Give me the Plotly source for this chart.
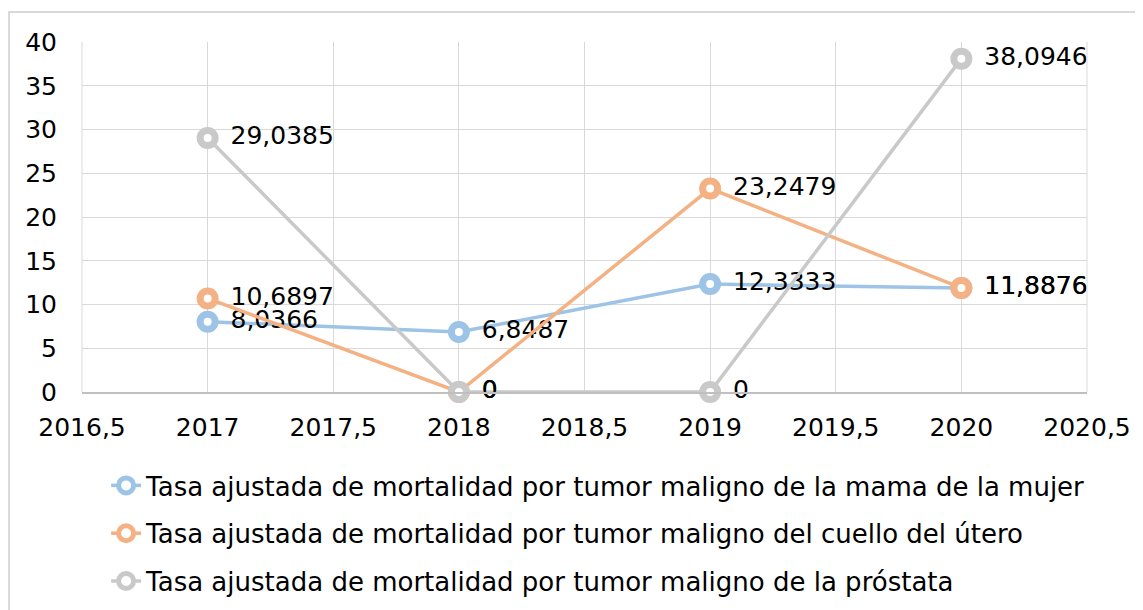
import plotly.graph_objects as go

years = [2017, 2018, 2019, 2020]
mama = [8.0366, 6.8487, 12.3333, 11.8876]
cuello = [10.6897, 0, 23.2479, 11.8876]
prostata = [29.0385, 0, 0, 38.0946]
series_names = [
    "Tasa ajustada de mortalidad por tumor maligno de la mama de la mujer",
    "Tasa ajustada de mortalidad por tumor maligno del cuello del útero",
    "Tasa ajustada de mortalidad por tumor maligno de la próstata",
]
colors = ["#9DC3E6", "#F4B183", "#C9C9C9"]
x_ticks = [2016.5, 2017, 2017.5, 2018, 2018.5, 2019, 2019.5, 2020, 2020.5]
y_ticks = [0, 5, 10, 15, 20, 25, 30, 35, 40]


def fmt(v):
    s = f"{v:.4f}".rstrip("0").rstrip(".")
    return "\u2002" + s.replace(".", ",")


def fmt_tick(v):
    s = f"{v:g}"
    return s.replace(".", ",")


FONT = "DejaVu Sans"
fig = go.Figure()
for i, (name, vals, col) in enumerate(zip(series_names, [mama, cuello, prostata], colors)):
    fig.add_trace(go.Scatter(
        x=years, y=vals, name=name, mode="lines+markers+text",
        text=[fmt(v) for v in vals], textposition="middle right",
        textfont=dict(family=FONT, size=25, color="#000000"),
        line=dict(color=col, width=3.5),
        marker=dict(symbol="circle", size=15, color="white",
                    line=dict(color=col, width=7)),
        legendgroup=f"g{i}", cliponaxis=False,
    ))

fig.update_layout(
    width=1143, height=610,
    margin=dict(l=74, r=64, t=34, b=226, autoexpand=False),
    paper_bgcolor="white", plot_bgcolor="white",
    font=dict(family=FONT, size=25, color="#000000"),
    showlegend=True,
    legend=dict(
        orientation="v", x=0.024, y=-0.20, xanchor="left", yanchor="top",
        traceorder="grouped", tracegroupgap=11,
        font=dict(family=FONT, size=26, color="#000000"),
        itemwidth=30, bgcolor="rgba(0,0,0,0)",
    ),
    xaxis=dict(
        range=[2016.5, 2020.5], tickvals=x_ticks,
        ticktext=[fmt_tick(v) for v in x_ticks],
        showgrid=True, gridcolor="#D9D9D9", gridwidth=1,
        zeroline=False, showline=True, linecolor="#BFBFBF", linewidth=2,
        mirror=False, ticks="", ticklabelstandoff=12,
        tickfont=dict(family=FONT, size=25),
    ),
    yaxis=dict(
        range=[0, 40], tickvals=y_ticks, ticktext=[str(v) for v in y_ticks],
        showgrid=True, gridcolor="#D9D9D9", gridwidth=1,
        zeroline=False, showline=False, ticks="", ticklabelstandoff=24,
        tickfont=dict(family=FONT, size=25),
    ),
    shapes=[
        dict(type="rect", xref="paper", yref="paper",
             x0=-0.0726, x1=1.2, y0=-0.8, y1=1.0857,
             line=dict(color="#D9D9D9", width=2), layer="below"),
        dict(type="line", xref="paper", yref="paper", x0=0, x1=0, y0=0, y1=1,
             line=dict(color="#D9D9D9", width=1)),
        dict(type="line", xref="paper", yref="paper", x0=1, x1=1, y0=0, y1=1,
             line=dict(color="#D9D9D9", width=1)),
    ],
)

fig.write_html("out.html")
